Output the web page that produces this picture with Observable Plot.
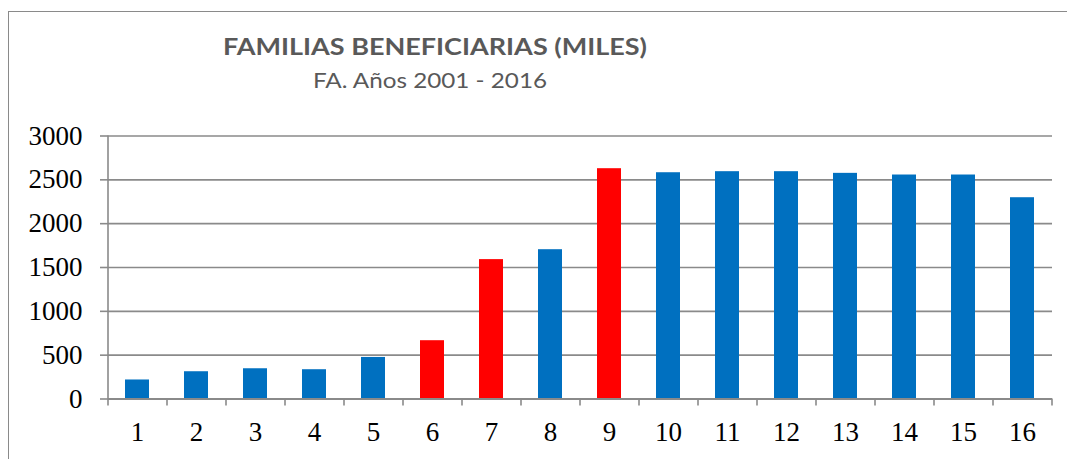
<!DOCTYPE html>
<html>
<head>
<meta charset="utf-8">
<script src="https://cdn.jsdelivr.net/npm/d3@7"></script>
<script src="https://cdn.jsdelivr.net/npm/@observablehq/plot@0.6"></script>
<style>
  html, body { margin: 0; padding: 0; background: #fff; }
  #wrap { position: relative; width: 1067px; height: 459px; overflow: hidden; background: #fff; }
  #border { position: absolute; left: 7.5px; top: 10.5px; width: 2000px; height: 2000px;
            border-left: 1.5px solid #8a8a8a; border-top: 1.5px solid #8a8a8a; pointer-events: none; }
  #chart { position: absolute; left: 0; top: 0; }
  #titles { position: absolute; left: 0; top: 0; }
</style>
</head>
<body>
<div id="wrap">
  <div id="chart"></div>
  <div id="border"></div>
  <svg id="titles" width="1067" height="110"></svg>
</div>
<script>
const titleText = "FAMILIAS BENEFICIARIAS (MILES)";
const subtitleText = "FA. Años 2001 - 2016";
const categories = ["1","2","3","4","5","6","7","8","9","10","11","12","13","14","15","16"];
const values = [217, 311, 345, 334, 474, 665, 1590, 1703, 2627, 2581, 2593, 2593, 2574, 2555, 2555, 2296];
const highlighted = ["6","7","9"];
const yTicks = [0, 500, 1000, 1500, 2000, 2500, 3000];

const data = categories.map((c, i) => ({cat: c, value: values[i], hi: highlighted.includes(c)}));

const grid = "#8a8a8a";
const serif = "'Liberation Serif', serif";

const chart = Plot.plot({
  width: 1067,
  height: 459,
  marginLeft: 108,
  marginRight: 15,
  marginTop: 135.5,
  marginBottom: 60.5,
  style: {background: "transparent", overflow: "visible"},
  x: {domain: categories, paddingInner: 0.593, paddingOuter: 0.2965, axis: null, label: null},
  y: {domain: [0, 3000], axis: null, label: null},
  marks: [
    Plot.ruleY(yTicks, {stroke: grid, strokeWidth: 1.6}),
    Plot.barY(data, {x: "cat", y: "value", fill: d => d.hi ? "#ff0000" : "#0070c0"}),
    Plot.ruleY([0], {stroke: grid, strokeWidth: 1.8}),
    // vertical axis line (left edge of first band)
    Plot.ruleX([categories[0]], {x: d => d, dx: -29.5, y1: -80, y2: 3000, stroke: grid, strokeWidth: 1.6}),
    // category boundary ticks
    Plot.ruleX(categories.slice(1), {x: d => d, dx: -29.5, y1: -80, y2: 0, stroke: grid, strokeWidth: 1.6}),
    Plot.ruleX([categories[categories.length - 1]], {x: d => d, dx: 29.5, y1: -80, y2: 0, stroke: grid, strokeWidth: 1.6}),
    Plot.axisY({ticks: yTicks, tickSize: 8, tickPadding: 18, stroke: grid, strokeWidth: 1.6, fill: "#000",
      fontSize: 27, fontFamily: serif, tickFormat: d => String(d), label: null}),
    Plot.axisX({tickSize: 0, tickPadding: 23, fill: "#000", fontSize: 27, fontFamily: serif, label: null})
  ]
});
document.getElementById("chart").appendChild(chart);

const t = d3.select("#titles");
t.append("text").attr("x", 223).attr("y", 55)
  .attr("textLength", 424).attr("lengthAdjust", "spacingAndGlyphs")
  .attr("font-family", "Lato, 'Open Sans', sans-serif").attr("font-weight", "bold")
  .attr("font-size", 22).attr("fill", "#595959").text(titleText);
t.append("text").attr("x", 313).attr("y", 88)
  .attr("textLength", 234).attr("lengthAdjust", "spacingAndGlyphs")
  .attr("font-family", "Lato, 'Open Sans', sans-serif")
  .attr("font-size", 22).attr("fill", "#595959").text(subtitleText);
</script>
</body>
</html>
